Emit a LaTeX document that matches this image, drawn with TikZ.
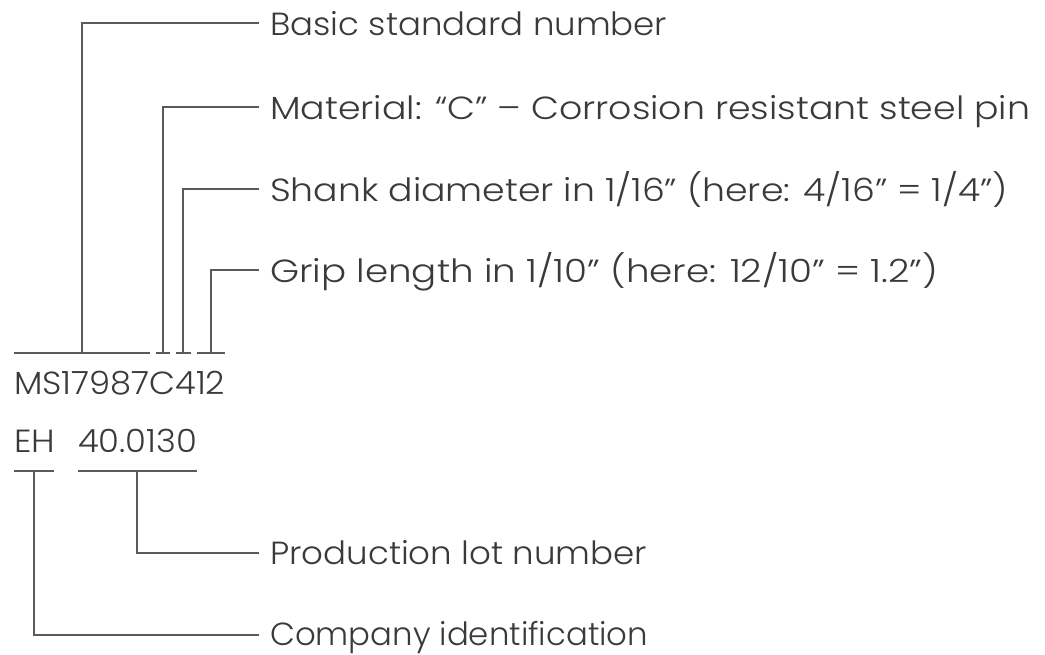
\documentclass[tikz,border=0pt]{standalone}
\usepackage{fontspec}
\setmainfont{Poppins}[UprightFont={* Light}]
\usepackage{graphicx}
\definecolor{txt}{HTML}{3A3A3A}
\definecolor{ln}{HTML}{5A5A5A}
\newcommand{\fitw}[2]{\resizebox{#1}{\height}{#2}}
\begin{document}
\begin{tikzpicture}[x=1pt,y=-1pt,
  lbl/.style={inner sep=0pt,text height=24pt,text depth=0pt,text=txt,font=\fontsize{32}{36}\selectfont},
  conn/.style={draw=ln,line width=1.8pt}]
\useasboundingbox (0,0) rectangle (1045,655);
% labels
\node[lbl,anchor=west] (basic) at (270,24) {\fitw{397pt}{Basic standard number}};
\node[lbl,anchor=west] (mat) at (270,108) {\fitw{760pt}{Material: ``C'' -- Corrosion resistant steel pin}};
\node[lbl,anchor=west] (shank) at (270,190) {\fitw{738pt}{Shank diameter in 1/16" (here: 4/16" = 1/4")}};
\node[lbl,anchor=west] (grip) at (270,271) {\fitw{668pt}{Grip length in 1/10" (here: 12/10" = 1.2")}};
\node[lbl,anchor=west] (prod) at (270,552) {\fitw{377pt}{Production lot number}};
\node[lbl,anchor=west] (comp) at (270,633) {\fitw{378pt}{Company identification}};
% codes
\node[lbl,anchor=west] (ms) at (14,383) {\fitw{211pt}{MS17987C412}};
\node[lbl,anchor=west] (eh) at (14,440) {\fitw{41pt}{EH}\hspace{23pt}\fitw{119pt}{40.0130}};
% anchor points on the underline
\coordinate (u1a) at (14,353);  \coordinate (u1b) at (150,353);
\coordinate (u2a) at (156,353); \coordinate (u2b) at (170,353);
\coordinate (u3a) at (176,353); \coordinate (u3b) at (191,353);
\coordinate (u4a) at (197,353); \coordinate (u4b) at (225,353);
\coordinate (bs) at (82,353);
\coordinate (ms2) at (163,353);
\coordinate (sd) at (183,353);
\coordinate (gl) at (211,353);
\coordinate (l1a) at (14,471);  \coordinate (l1b) at (54,471);
\coordinate (l2a) at (78,471);  \coordinate (l2b) at (197,471);
\coordinate (ci) at (34,471);
\coordinate (pl) at (137,471);
% underlines
\draw[conn] (u1a) -- (u1b);
\draw[conn] (u2a) -- (u2b);
\draw[conn] (u3a) -- (u3b);
\draw[conn] (u4a) -- (u4b);
\draw[conn] (l1a) -- (l1b);
\draw[conn] (l2a) -- (l2b);
% leaders
\draw[conn] (bs) |- ([xshift=-11pt]basic.west |- 0,23);
\draw[conn] (ms2) |- ([xshift=-11pt]mat.west |- 0,107);
\draw[conn] (sd) |- ([xshift=-11pt]shank.west |- 0,189);
\draw[conn] (gl) |- ([xshift=-11pt]grip.west |- 0,270);
\draw[conn] (pl) |- ([xshift=-11pt]prod.west |- 0,553);
\draw[conn] (ci) |- ([xshift=-11pt]comp.west |- 0,635);
\end{tikzpicture}
\end{document}
